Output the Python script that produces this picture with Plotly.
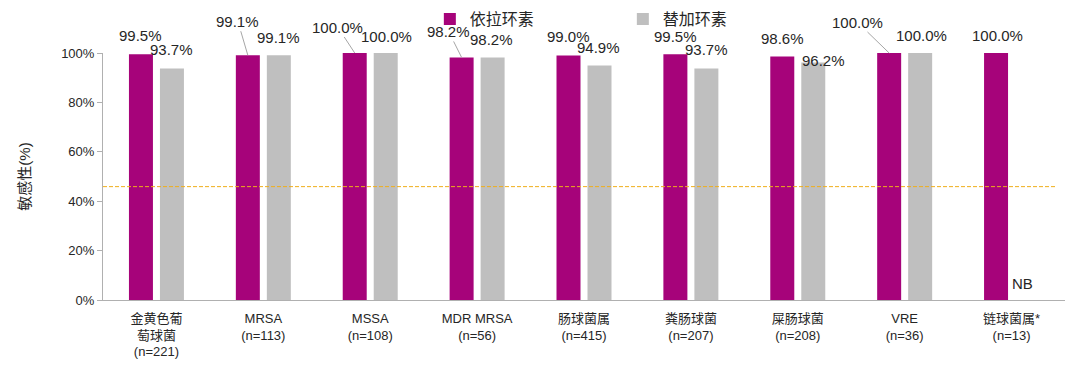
import plotly.graph_objects as go

categories = ["金黄色葡<br>萄球菌<br>(n=221)", "MRSA<br>(n=113)", "MSSA<br>(n=108)",
              "MDR MRSA<br>(n=56)", "肠球菌属<br>(n=415)", "粪肠球菌<br>(n=207)",
              "屎肠球菌<br>(n=208)", "VRE<br>(n=36)", "链球菌属*<br>(n=13)"]
eravacycline = [99.5, 99.1, 100.0, 98.2, 99.0, 99.5, 98.6, 100.0, 100.0]
tigecycline = [93.7, 99.1, 100.0, 98.2, 94.9, 93.7, 96.2, 100.0, None]
series_names = ["依拉环素", "替加环素"]
ytick_vals = [0, 20, 40, 60, 80, 100]
ytick_text = ["0%", "20%", "40%", "60%", "80%", "100%"]
reference_line = 45.9
no_break_text = "NB"

# label placement (pixel offsets: dx right, dy up; leader = drawn with a leader line)
era_offsets = [(0, 19, False), (-10, 34, True), (-17, 26, True), (-13, 26, True), (0, 19, False),
               (0, 18, False), (0, 18, False), (-32, 31, True), (1, 18, False)]
tig_offsets = [(0, 19, False), (0, 18, False), (1, 17, False), (-1, 18, False), (-1, 18, False),
               (0, 19, False), (10, 2, False), (1, 18, False), (-5, 17, False)]

PURPLE = "#A6037A"
GREY = "#BFBFBF"
AXIS = "#B0B0B0"
TEXT = "#262626"
FONT = "Liberation Sans, Arial, Noto Sans CJK SC, sans-serif"
BAR_SHIFT = 15.5

fig = go.Figure()
fig.add_trace(go.Bar(x=categories, y=eravacycline, name=series_names[0],
                     marker=dict(color=PURPLE, line=dict(width=0))))
fig.add_trace(go.Bar(x=categories, y=tigecycline, name=series_names[1],
                     marker=dict(color=GREY, line=dict(width=0))))

annotations = []
for series, offsets, shift in ((eravacycline, era_offsets, -BAR_SHIFT),
                               (tigecycline, tig_offsets, BAR_SHIFT)):
    for cat, val, (dx, dy, leader) in zip(categories, series, offsets):
        text = no_break_text if val is None else f"{val:.1f}%"
        yv = 0 if val is None else val
        if leader:
            annotations.append(dict(x=cat, y=yv, xshift=shift, text=text, showarrow=True,
                                    arrowhead=0, arrowwidth=1, arrowcolor="#A6A6A6",
                                    ax=dx, ay=-dy, standoff=0, startstandoff=0,
                                    font=dict(size=15, color=TEXT, family=FONT)))
        else:
            annotations.append(dict(x=cat, y=yv, xshift=shift + dx, yshift=dy, text=text,
                                    showarrow=False, xanchor="center", yanchor="middle",
                                    font=dict(size=15, color=TEXT, family=FONT)))

fig.add_shape(type="line", xref="paper", x0=0, x1=0.99, yref="y", y0=reference_line,
              y1=reference_line, line=dict(color="#EFAE1A", width=1, dash="4px,2px"), layer="above")

fig.update_layout(
    width=1080, height=365,
    margin=dict(l=103, r=15, t=53, b=65),
    paper_bgcolor="white", plot_bgcolor="white",
    font=dict(family=FONT, color=TEXT, size=13),
    barmode="group", bargap=0.42, bargroupgap=0.226,
    showlegend=True,
    legend=dict(orientation="h", xref="container", yref="container", x=0.398, y=0.948,
                xanchor="left", yanchor="middle", font=dict(size=16, color=TEXT, family=FONT),
                entrywidth=148, entrywidthmode="pixels", bgcolor="rgba(0,0,0,0)"),
    annotations=annotations,
    xaxis=dict(type="category", range=[-0.5, 8.5], showline=True, linecolor=AXIS, linewidth=1,
               ticks="", showgrid=False, ticklabelstandoff=6, automargin=False,
               tickfont=dict(size=13, color=TEXT, family=FONT)),
    yaxis=dict(range=[0, 100], tickvals=ytick_vals, ticktext=ytick_text, showline=True,
               linecolor=AXIS, linewidth=1, ticks="outside", ticklen=5, tickcolor=AXIS,
               showgrid=False, zeroline=False, automargin=False,
               tickfont=dict(size=13, color=TEXT, family=FONT),
               title=dict(text="敏感性(%)", standoff=26, font=dict(size=15, color=TEXT, family=FONT))),
)

fig.write_html("out.html", config={"displayModeBar": False},
               post_script="document.body.style.margin='0';")
